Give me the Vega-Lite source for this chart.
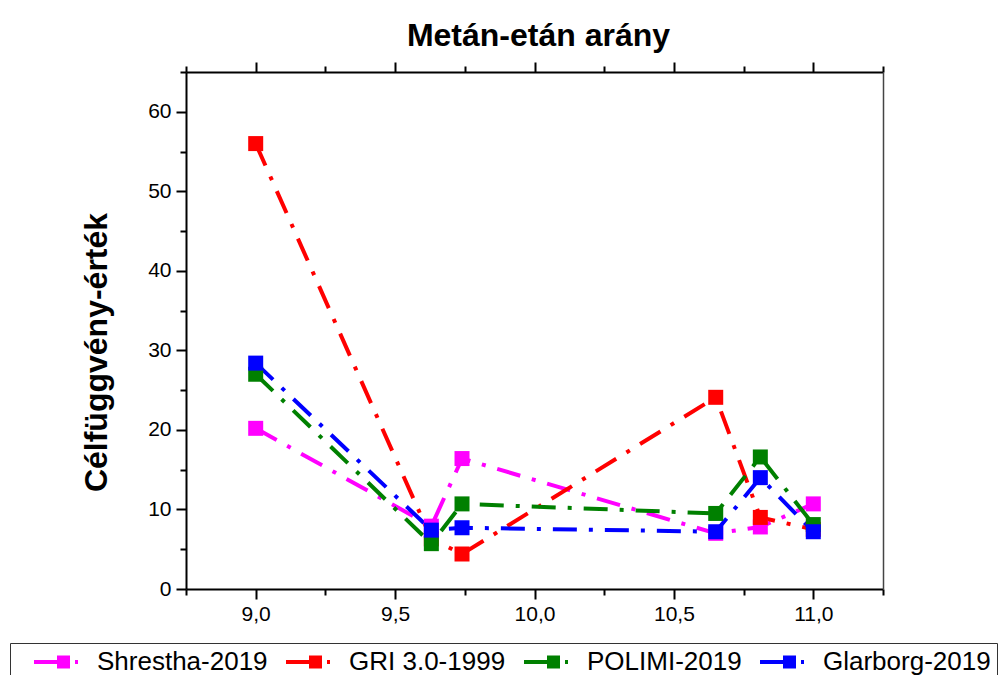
{
  "$schema": "https://vega.github.io/schema/vega-lite/v6.json",
  "width": 697,
  "height": 517,
  "autosize": {"type": "none"},
  "padding": {"left": 186, "top": 72, "right": 119, "bottom": 86},
  "background": "white",
  "title": {
    "text": "Metán-etán arány",
    "font": "Liberation Sans",
    "fontSize": 32,
    "fontWeight": "bold",
    "color": "black",
    "anchor": "middle",
    "dx": 4,
    "offset": 8
  },
  "config": {
    "view": {"stroke": null},
    "axis": {
      "grid": false,
      "domainColor": "black",
      "domainWidth": 2,
      "tickColor": "black",
      "tickWidth": 2,
      "labelFont": "Liberation Sans",
      "labelFontSize": 21,
      "labelColor": "black",
      "labelOverlap": false,
      "titleFont": "Liberation Sans",
      "titleColor": "black"
    }
  },
  "data": {
    "values": [
      {"model": "Shrestha-2019", "x": 9.0, "y": 20.2},
      {"model": "Shrestha-2019", "x": 9.63, "y": 7.9},
      {"model": "Shrestha-2019", "x": 9.74, "y": 16.4},
      {"model": "Shrestha-2019", "x": 10.65, "y": 7.0},
      {"model": "Shrestha-2019", "x": 10.81, "y": 7.8},
      {"model": "Shrestha-2019", "x": 11.0, "y": 10.7},
      {"model": "GRI 3.0-1999", "x": 9.0, "y": 56.0},
      {"model": "GRI 3.0-1999", "x": 9.63, "y": 6.3},
      {"model": "GRI 3.0-1999", "x": 9.74, "y": 4.4},
      {"model": "GRI 3.0-1999", "x": 10.65, "y": 24.1},
      {"model": "GRI 3.0-1999", "x": 10.81, "y": 9.0},
      {"model": "GRI 3.0-1999", "x": 11.0, "y": 7.5},
      {"model": "POLIMI-2019", "x": 9.0, "y": 27.0},
      {"model": "POLIMI-2019", "x": 9.63, "y": 5.7},
      {"model": "POLIMI-2019", "x": 9.74, "y": 10.7},
      {"model": "POLIMI-2019", "x": 10.65, "y": 9.5},
      {"model": "POLIMI-2019", "x": 10.81, "y": 16.6},
      {"model": "POLIMI-2019", "x": 11.0, "y": 8.1},
      {"model": "Glarborg-2019", "x": 9.0, "y": 28.4},
      {"model": "Glarborg-2019", "x": 9.63, "y": 7.4},
      {"model": "Glarborg-2019", "x": 9.74, "y": 7.7},
      {"model": "Glarborg-2019", "x": 10.65, "y": 7.2},
      {"model": "Glarborg-2019", "x": 10.81, "y": 14.0},
      {"model": "Glarborg-2019", "x": 11.0, "y": 7.2}
    ]
  },
  "layer": [
    {
      "mark": {"type": "line", "strokeWidth": 4, "strokeDash": [24, 12, 4, 12]},
      "encoding": {
        "x": {
          "field": "x", "type": "quantitative",
          "scale": {"domain": [8.75, 11.25], "nice": false, "zero": false},
          "axis": {
            "orient": "bottom",
            "title": null,
            "values": [8.75, 9, 9.25, 9.5, 9.75, 10, 10.25, 10.5, 10.75, 11, 11.25],
            "labelExpr": "datum.value % 0.5 === 0 ? replace(format(datum.value, '.1f'), '.', ',') : ''",
            "tickSize": {"condition": {"test": "datum.value % 0.5 === 0", "value": 10}, "value": 6},
            "labelPadding": 4
          }
        },
        "y": {
          "field": "y", "type": "quantitative",
          "scale": {"domain": [0, 65], "nice": false, "zero": true},
          "axis": {
            "orient": "left",
            "title": "Célfüggvény-érték",
            "titleFontSize": 32,
            "titleFontWeight": "bold",
            "titlePadding": 34,
            "titleY": 280,
            "values": [0, 5, 10, 15, 20, 25, 30, 35, 40, 45, 50, 55, 60, 65],
            "labelExpr": "datum.value % 10 === 0 ? datum.value : ''",
            "tickSize": {"condition": {"test": "datum.value % 10 === 0", "value": 10}, "value": 6},
            "labelPadding": 5
          }
        },
        "color": {
          "field": "model", "type": "nominal",
          "scale": {
            "domain": ["Shrestha-2019", "GRI 3.0-1999", "POLIMI-2019", "Glarborg-2019"],
            "range": ["#ff00ff", "#ff0000", "#008000", "#0000ff"]
          },
          "legend": {
            "orient": "none",
            "legendX": -176,
            "legendY": 571,
            "direction": "horizontal",
            "title": null,
            "symbolType": "M-2.2,-0.2H1.4V0.2H-2.2Z M0.1,-0.65H1.4V0.65H0.1Z M1.9,-0.2H2.2V0.2H1.9Z",
            "symbolSize": 400,
            "symbolStrokeWidth": 0,
            "symbolOffset": 27,
            "labelOffset": 28,
            "columnPadding": 0,
            "labelFont": "Liberation Sans",
            "labelFontSize": 26,
            "labelColor": "black",
            "strokeColor": "#333333",
            "padding": 6,
            "labelLimit": 400
          }
        },
        "order": {"field": "x", "type": "quantitative"}
      }
    },
    {
      "mark": {"type": "point", "shape": "square", "filled": true, "size": 225, "opacity": 1},
      "encoding": {
        "x": {
          "field": "x", "type": "quantitative",
          "axis": {
            "orient": "top",
            "title": null,
            "labels": false,
            "values": [8.75, 9, 9.25, 9.5, 9.75, 10, 10.25, 10.5, 10.75, 11, 11.25],
            "tickSize": {"condition": {"test": "datum.value % 0.5 === 0", "value": 10}, "value": 6}
          }
        },
        "y": {
          "field": "y", "type": "quantitative",
          "axis": {
            "orient": "right",
            "title": null,
            "labels": false,
            "ticks": false,
            "domainWidth": 1.5,
            "domainColor": "#444444"
          }
        },
        "color": {"field": "model", "type": "nominal"}
      }
    }
  ],
  "resolve": {"axis": {"x": "independent", "y": "independent"}}
}
